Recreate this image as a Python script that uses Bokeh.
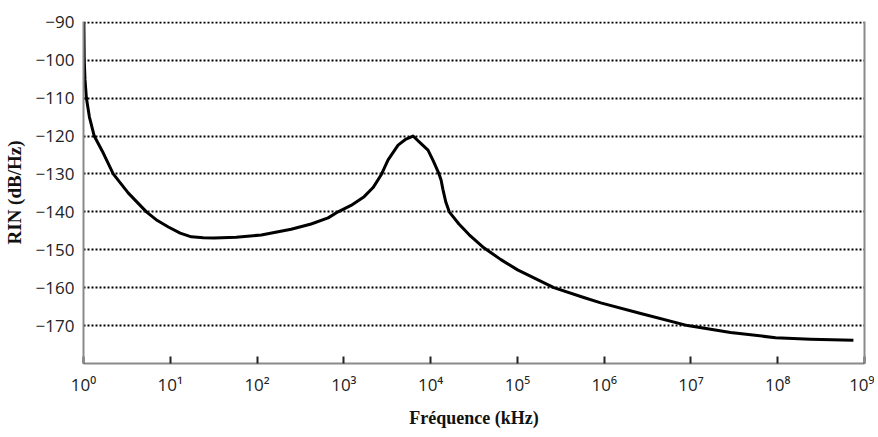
from bokeh.plotting import figure
from bokeh.models import FixedTicker, LinearAxis, Range1d
from bokeh.embed import file_html
from bokeh.resources import INLINE

# RIN curve
freq_khz = [1.01, 1.02, 1.04, 1.08, 1.17, 1.33, 1.69, 2.20, 3.27, 5.31, 7.1, 9.51, 13.0, 17.5, 24.0, 32.0,
            57.5, 112, 247, 420, 659, 859, 1211, 1714, 2174, 2685, 3236, 4217, 5212, 6266,
            7762, 9333, 10700, 12500, 13200, 13900, 15000, 16400, 21200, 27670, 41100, 64570,
            100500, 263000, 582000, 914100, 2.64e6, 9.16e6, 2.86e7, 9.44e7, 2.38e8, 7.45e8]
rin_db = [-90, -100, -105, -110, -115, -120, -124.5, -130, -135, -140, -142.3, -144, -145.6, -146.6, -146.85, -146.9,
          -146.7, -146.1, -144.6, -143.2, -141.6, -140, -138.3, -136, -133.6, -130.3, -126.3, -122.4, -120.8, -120,
          -122.0, -123.7, -126.5, -130, -131.6, -134.2, -137.5, -140, -143.2, -146, -149.5, -152.6,
          -155.3, -160, -162.6, -164, -166.8, -170, -171.8, -173.2, -173.6, -173.9]

x_ticks = [1, 10, 100, 1000, 10**4, 10**5, 10**6, 10**7, 10**8, 10**9]
x_tick_labels = ["10⁰", "10¹", "10²", "10³", "10⁴", "10⁵", "10⁶", "10⁷", "10⁸", "10⁹"]
y_ticks = [-90, -100, -110, -120, -130, -140, -150, -160, -170]

p = figure(width=874, height=434, x_axis_type="log", output_backend="svg",
           toolbar_location=None, x_range=Range1d(1, 1e9), y_range=Range1d(-180, -89.8),
           min_border_left=80, min_border_right=10, min_border_top=21, min_border_bottom=71)
p.outline_line_color = None
p.background_fill_color = "white"

p.line(freq_khz, rin_db, line_color="black", line_width=3, line_join="round")

# axes
p.xaxis.ticker = FixedTicker(ticks=x_ticks)
p.xaxis.major_label_overrides = {t: l for t, l in zip(x_ticks, x_tick_labels)}
p.xaxis.minor_tick_line_color = None
p.xaxis.major_tick_in = 7
p.xaxis.major_tick_out = 0
p.xaxis.major_tick_line_color = "#222222"
p.xaxis.major_tick_line_width = 2
p.xaxis.axis_line_color = "#8a8a8a"
p.xaxis.axis_line_width = 2
p.xaxis.major_label_text_font = "Open Sans"
p.xaxis.major_label_text_font_size = "17px"
p.xaxis.major_label_text_color = "#222222"
p.xaxis.major_label_standoff = 9
p.xaxis.axis_label = "Fréquence (kHz)"
p.xaxis.axis_label_text_font = "Liberation Serif"
p.xaxis.axis_label_text_font_style = "bold"
p.xaxis.axis_label_text_font_size = "18px"
p.xaxis.axis_label_text_color = "#111111"
p.xaxis.axis_label_standoff = 9

p.yaxis.ticker = FixedTicker(ticks=y_ticks)
p.yaxis.minor_tick_line_color = None
p.yaxis.major_tick_line_color = None
p.yaxis.major_tick_in = 0
p.yaxis.major_tick_out = 0
p.yaxis.axis_line_color = "#8a8a8a"
p.yaxis.axis_line_width = 2
p.yaxis.major_label_text_font = "Open Sans"
p.yaxis.major_label_text_font_size = "17px"
p.yaxis.major_label_text_color = "#222222"
p.yaxis.major_label_standoff = 9
p.yaxis.axis_label = "RIN (dB/Hz)"
p.yaxis.axis_label_text_font = "Liberation Serif"
p.yaxis.axis_label_text_font_style = "bold"
p.yaxis.axis_label_text_font_size = "19px"
p.yaxis.axis_label_text_color = "#111111"
p.yaxis.axis_label_standoff = 8

right = LinearAxis(ticker=FixedTicker(ticks=[]), major_tick_line_color=None,
                   minor_tick_line_color=None, axis_line_color="#8a8a8a",
                   axis_line_width=2, major_tick_in=0, major_tick_out=0)
p.add_layout(right, "right")

p.xgrid.grid_line_color = None
p.ygrid.grid_line_color = "black"
p.ygrid.grid_line_width = 2
p.ygrid.grid_line_dash = "2 2"

open("out.html", "w").write(file_html(p, INLINE))
